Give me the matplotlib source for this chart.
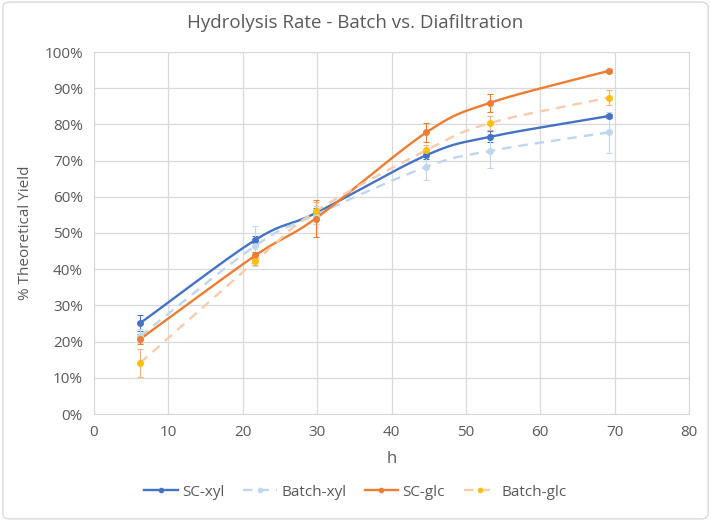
import numpy as np
import matplotlib
matplotlib.use("Agg")
import matplotlib.pyplot as plt
from matplotlib.patches import FancyBboxPatch
from matplotlib.lines import Line2D

hours = [6.2, 21.7, 29.8, 44.7, 53.3, 69.2]
sc_xyl = [25.1, 48.1, 55.5, 71.5, 76.6, 82.3]
sc_xyl_err = [2.3, 1.0, 1.5, 1.0, 1.5, 0.6]
batch_xyl = [21.5, 46.5, 55.0, 68.3, 72.7, 77.8]
batch_xyl_err = [2.0, 5.5, 2.5, 3.7, 4.7, 5.7]
sc_glc = [20.7, 43.8, 54.0, 77.8, 86.0, 94.8]
sc_glc_err = [1.5, 1.0, 5.0, 2.7, 2.5, 0.5]
batch_glc = [14.1, 42.2, 56.0, 72.9, 80.4, 87.4]
batch_glc_err = [3.8, 1.0, 2.5, 1.5, 2.0, 2.0]

series = [
    ("SC-xyl", sc_xyl, sc_xyl_err, "#4472C4", "#4472C4", "-"),
    ("Batch-xyl", batch_xyl, batch_xyl_err, "#BDD7EE", "#BDD7EE", (0, (4, 3))),
    ("SC-glc", sc_glc, sc_glc_err, "#ED7D31", "#ED7D31", "-"),
    ("Batch-glc", batch_glc, batch_glc_err, "#F8CBAD", "#FFC000", (0, (4, 3))),
]

def smooth(x, y, n=30):
    x = np.asarray(x, float); y = np.asarray(y, float)
    px = np.concatenate([[2*x[0]-x[1]], x, [2*x[-1]-x[-2]]])
    py = np.concatenate([[2*y[0]-y[1]], y, [2*y[-1]-y[-2]]])
    xs, ys = [], []
    t = np.linspace(0, 1, n)
    for i in range(1, len(px)-2):
        p0, p1, p2, p3 = [np.array([px[j], py[j]]) for j in (i-1, i, i+1, i+2)]
        c1 = p1 + (p2 - p0) / 6.0
        c2 = p2 - (p3 - p1) / 6.0
        b = ((1-t)**3)[:, None]*p1 + (3*(1-t)**2*t)[:, None]*c1 + (3*(1-t)*t**2)[:, None]*c2 + (t**3)[:, None]*p2
        xs.extend(b[:, 0]); ys.extend(b[:, 1])
    return np.array(xs), np.array(ys)

plt.rcParams['font.family'] = ['Open Sans', 'DejaVu Sans']
fig = plt.figure(figsize=(7.11, 5.21), dpi=100)
fig.patches.append(FancyBboxPatch((0.004, 0.004), 0.992, 0.992, boxstyle="round,pad=0,rounding_size=0.01",
                                  transform=fig.transFigure, fill=False, edgecolor="#D9D9D9", lw=1))
ax = fig.add_axes([94/711, (521-414)/521, (689-94)/711, (414-52)/521])

for name, ys, errs, lc, mc, ls in series:
    sx, sy = smooth(hours, ys)
    ax.plot(sx, sy, color=lc, lw=1.7, ls=ls, zorder=3)
    ax.errorbar(hours, ys, yerr=errs, fmt='none', ecolor=lc if lc != "#F8CBAD" else "#F4B183",
                elinewidth=0.8, capsize=2.5, capthick=0.8, zorder=2)
    ax.plot(hours, ys, 'o', color=mc, ms=4, zorder=4)

ax.set_xlim(0, 80)
ax.set_ylim(0, 100)
ax.set_xticks(range(0, 81, 10))
ax.set_yticks(range(0, 101, 10))
ax.set_yticklabels([f"{v}%" for v in range(0, 101, 10)])
ax.grid(True, color="#D9D9D9", lw=0.9)
ax.set_axisbelow(True)
for s in ax.spines.values():
    s.set_color("#D9D9D9")
ax.tick_params(length=0, labelsize=11, colors="#595959", pad=8)
ax.set_xlabel("h", fontsize=12, color="#595959", labelpad=8)
ax.set_ylabel("% Theoretical Yield", fontsize=11, color="#595959", labelpad=8)
fig.text(0.5, 1 - 23/521, "Hydrolysis Rate - Batch vs. Diafiltration", ha="center", va="center",
         fontsize=13.5, color="#595959")

handles = [Line2D([], [], color=lc, ls=ls, lw=1.7, marker='o', ms=3, mfc=mc, mec=mc)
           for name, ys, errs, lc, mc, ls in series]
fig.legend(handles, [s[0] for s in series], loc="center", bbox_to_anchor=(0.5, 1 - 492/521),
           ncol=4, frameon=False, fontsize=11, labelcolor="#595959", handlelength=2.2,
           columnspacing=1.2, handletextpad=0.3)

fig.savefig("out.png", dpi=100)
